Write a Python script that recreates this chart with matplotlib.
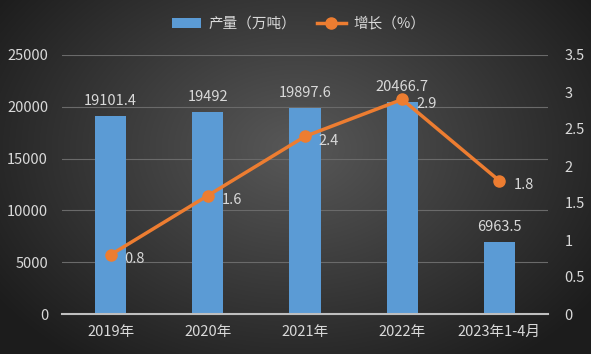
import numpy as np
import matplotlib
matplotlib.use("Agg")
import matplotlib.pyplot as plt

plt.rcParams['font.family'] = ['Noto Sans CJK SC', 'DejaVu Sans']

categories = ["2019年", "2020年", "2021年", "2022年", "2023年1-4月"]
output = [19101.4, 19492, 19897.6, 20466.7, 6963.5]
output_labels = ["19101.4", "19492", "19897.6", "20466.7", "6963.5"]
growth = [0.8, 1.6, 2.4, 2.9, 1.8]
growth_labels = ["0.8", "1.6", "2.4", "2.9", "1.8"]

W, H = 591, 354
fig = plt.figure(figsize=(W / 100, H / 100), dpi=100)

# radial gradient background
bg = fig.add_axes([0, 0, 1, 1])
yy, xx = np.mgrid[0:H, 0:W]
cx, cy = W * 0.5, H * 0.42
r = np.sqrt(((xx - cx) / (W * 0.62)) ** 2 + ((yy - cy) / (H * 0.75)) ** 2)
r = np.clip(r, 0, 1)
c0 = np.array([0x58, 0x58, 0x58]) / 255
c1 = np.array([0x1c, 0x1c, 0x1c]) / 255
img = c0[None, None, :] * (1 - r[..., None]) + c1[None, None, :] * r[..., None]
bg.imshow(img, aspect='auto', extent=[0, 1, 0, 1], origin='upper')
bg.axis('off')

ax = fig.add_axes([62 / W, 1 - 314 / H, (548 - 62) / W, (314 - 55) / H])
ax.patch.set_alpha(0)
x = np.arange(len(categories))
tc = '#d9d9d9'
fs = 10.5

bars = ax.bar(x, output, width=0.32, color='#5b9bd5', zorder=2, label='产量（万吨）')
ax.set_ylim(0, 25000)
ax.set_yticks(np.arange(0, 25001, 5000))
ax.set_xlim(-0.5, len(categories) - 0.5)
ax.set_xticks(x)
ax.set_xticklabels(categories)
ax.grid(axis='y', color='#6a6a6a', linewidth=0.8, zorder=0)
for s in ['top', 'left', 'right']:
    ax.spines[s].set_visible(False)
ax.spines['bottom'].set_color('#bfbfbf')
ax.spines['bottom'].set_linewidth(1.5)
ax.tick_params(axis='both', length=0, colors=tc, labelsize=fs)
ax.tick_params(axis='x', pad=8)
ax.tick_params(axis='y', pad=10)

for xi, v, lab in zip(x, output, output_labels):
    ax.annotate(lab, (xi, v), xytext=(0, 6), textcoords='offset points',
                ha='center', va='bottom', color=tc, fontsize=fs)

ax2 = ax.twinx()
ax2.patch.set_alpha(0)
ax2.plot(x, growth, color='#ed7d31', linewidth=2.5, marker='o', markersize=8,
         zorder=3, label='增长（%）')
ax2.set_ylim(0, 3.5)
ax2.set_yticks(np.arange(0, 3.51, 0.5))
ax2.set_yticklabels(['0', '0.5', '1', '1.5', '2', '2.5', '3', '3.5'])
for s in ['top', 'left', 'right', 'bottom']:
    ax2.spines[s].set_visible(False)
ax2.tick_params(axis='y', length=0, colors=tc, labelsize=fs, pad=12)
for xi, v, lab in zip(x, growth, growth_labels):
    ax2.annotate(lab, (xi, v), xytext=(10, -3), textcoords='offset points',
                 ha='left', va='center', color=tc, fontsize=fs)

h1, l1 = ax.get_legend_handles_labels()
h2, l2 = ax2.get_legend_handles_labels()
fig.legend(h1 + h2, l1 + l2, loc='center', bbox_to_anchor=(0.505, 1 - 24 / H),
           ncol=2, frameon=False, fontsize=fs, labelcolor=tc,
           handlelength=2.0, columnspacing=1.4, handletextpad=0.5)

fig.savefig('out.png', dpi=100)
